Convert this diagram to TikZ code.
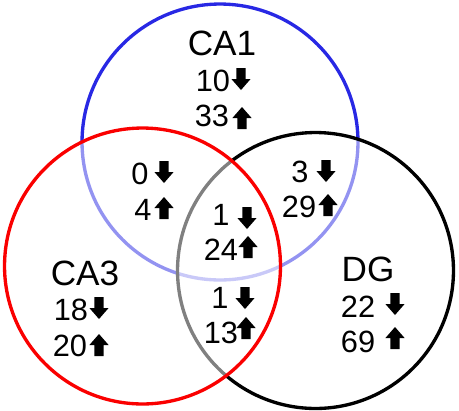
\documentclass[tikz,border=0pt]{standalone}
\usepackage{fontspec}
\setmainfont{Liberation Sans}
\definecolor{caone}{RGB}{40,40,228}
\definecolor{cathree}{RGB}{250,0,0}
\usepackage{tikz}
\usetikzlibrary{positioning}

\begin{document}
\begin{tikzpicture}[x=0.02cm,y=-0.02cm,
    ring/.style={line width=1.9pt},
    veil/.style={fill=white,fill opacity=0.5},
    region/.style={font=\fontsize{20}{22}\selectfont,inner sep=0pt},
    num/.style={font=\fontsize{17.5}{19}\selectfont,inner sep=0pt},
    dnarr/.pic={\fill (-4.6,-11)--(4.6,-11)--(4.6,0)--(9.6,0)--(0,11)--(-9.6,0)--(-4.6,0)--cycle;},
    uparr/.pic={\fill (-4.6,11)--(4.6,11)--(4.6,0)--(9.6,0)--(0,-11)--(-9.6,0)--(-4.6,0)--cycle;}]
  \useasboundingbox (0,0) rectangle (459,410);
  % circles, later ones veil the earlier lines
  \draw[ring,caone] (220,142) circle[radius=2.76cm];
  \draw[ring,black,veil] (315.5,270.5) circle[radius=2.76cm];
  \draw[ring,cathree,veil] (142.5,266) circle[radius=2.76cm];
  % labels
  \node[region] (ca1) at (222,43.5) {CA1};
  \node[region] (ca3) at (85,273) {CA3};
  \node[region] (dg) at (368,269) {DG};
  % counts
  \node[num] (ca1dn) at (213,81) {10};  \pic at (241,79) {dnarr};
  \node[num] (ca1up) at (212,116) {33}; \pic at (242,118) {uparr};
  \node[num] (c13dn) at (140,174) {0};  \pic at (164,172) {dnarr};
  \node[num] (c13up) at (143,210) {4};  \pic at (164,208) {uparr};
  \node[num] (c1gdn) at (300,172) {3};  \pic at (326,171) {dnarr};
  \node[num] (c1gup) at (299,207) {29}; \pic at (328,205) {uparr};
  \node[num] (alldn) at (221,215) {1};  \pic at (247,218) {dnarr};
  \node[num] (allup) at (221,250) {24}; \pic at (248,247) {uparr};
  \node[num] (c3gdn) at (220,298) {1};  \pic at (245,298) {dnarr};
  \node[num] (c3gup) at (221,333) {13}; \pic at (246,328) {uparr};
  \node[num] (ca3dn) at (71,310) {18};  \pic at (99,308) {dnarr};
  \node[num] (ca3up) at (70,346) {20};  \pic at (99,345) {uparr};
  \node[num] (dgdn) at (358,307) {22};  \pic at (395,304) {dnarr};
  \node[num] (dgup) at (358,342) {69};  \pic at (395,338) {uparr};
\end{tikzpicture}
\end{document}
